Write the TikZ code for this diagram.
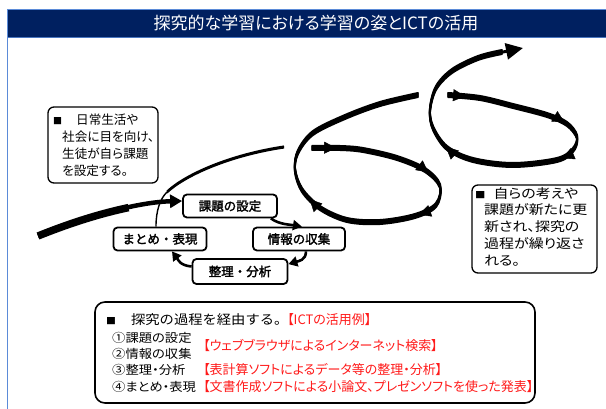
\documentclass[tikz,border=0pt]{standalone}
\usepackage{fontspec}
\usepackage{graphicx}
\usetikzlibrary{arrows.meta,decorations.markings}
\newfontfamily\jp{Noto Sans CJK JP}
\newfontfamily\jpp[RawFeature=+palt]{Noto Sans CJK JP}
\newfontfamily\jpw[FakeStretch=1.15,RawFeature=+palt]{Noto Sans CJK JP}
\newfontfamily\jps[FakeStretch=1.1]{Noto Sans CJK JP}
\newfontfamily\jpps[FakeStretch=1.1,RawFeature=+palt]{Noto Sans CJK JP}
\newfontfamily\jpb[FakeBold=2]{Noto Sans CJK JP}
\definecolor{navy}{HTML}{002060}
\definecolor{frameblue}{HTML}{5B8BD8}
\definecolor{ictred}{HTML}{FF1A1A}
\newcommand\nibdraw[1]{%
  \foreach \dy in {-2,-1,0,1,2}{%
    \draw[line width=2pt, line cap=round, yshift=\dy pt] plot[smooth, tension=0.55] coordinates {#1};}}
\tikzset{
  cycbox/.style={draw, line width=1.8pt, rounded corners=4pt, fill=white,
    minimum width=#1, minimum height=23pt, inner sep=0pt,
    font=\jpb\fontsize{12.5}{12.5}\selectfont},
  infobox/.style={draw, line width=1.3pt, rounded corners=6pt, fill=white, inner sep=0pt},
  cycarrow/.style={line width=2.6pt, -{Triangle[length=9pt,width=10pt]}},
  blacktext/.style={anchor=west, inner sep=0pt, font=\jpps\fontsize{12.1}{12.1}\selectfont},
  redtext/.style={anchor=west, inner sep=0pt, text=ictred, font=\jpp\fontsize{13}{13}\selectfont},
}
\begin{document}
\begin{tikzpicture}[x=1pt,y=-1pt]
\useasboundingbox (0,0) rectangle (606,409);
\fill[white] (0,0) rectangle (606,409);
% frame and title bar
\fill[navy] (8,10) rectangle (606,37);
\draw[frameblue, line width=1.6pt] (7.5,409) -- (7.5,9.6) -- (606,9.6);
\draw[frameblue!80!navy, line width=0.8pt] (8,37) -- (606,37);
\node[text=white, inner sep=0pt, font=\jpp\fontsize{17}{17}\selectfont] (title) at (316,23.5) {探究的な学習における学習の姿とICTの活用};

% spiral loop 1
\nibdraw{(312,148) (340,148) (363,150) (397,158) (425,170) (440,186) (436,205) (415,216) (380,222) (347,220) (320,208) (302,190) (295,170) (298,152) (313,133) (345,117) (380,104) (418,95)}
\path[postaction={decorate}, decoration={markings,
   mark=at position 0.05 with {\arrow{Triangle[length=12pt,width=12pt]}},
   mark=at position 0.25 with {\arrow{Triangle[length=12pt,width=12pt]}},
   mark=at position 0.37 with {\arrow{Triangle[length=12pt,width=12pt]}},
   mark=at position 0.61 with {\arrow{Triangle[length=12pt,width=12pt]}}}]
  plot[smooth, tension=0.55] coordinates {(312,148) (340,148) (363,150) (397,158) (425,170) (440,186) (436,205) (415,216) (380,222) (347,220) (320,208) (302,190) (295,170) (298,152) (313,133) (345,117) (380,104) (418,95)};

% spiral loop 2
\nibdraw{(448,95) (480,98) (513,106) (547,115) (567,124) (577,137) (573,150) (557,160) (513,165) (473,160) (447,148) (433,128) (430,110) (436,88) (452,71) (478,58) (502,52)}
\path[postaction={decorate}, decoration={markings,
   mark=at position 0.04 with {\arrow{Triangle[length=12pt,width=12pt]}},
   mark=at position 0.28 with {\arrow{Triangle[length=12pt,width=12pt]}},
   mark=at position 0.39 with {\arrow{Triangle[length=12pt,width=12pt]}},
   mark=at position 0.67 with {\arrow{Triangle[length=12pt,width=12pt]}}}]
  plot[smooth, tension=0.55] coordinates {(448,95) (480,98) (513,106) (547,115) (567,124) (577,137) (573,150) (557,160) (513,165) (473,160) (447,148) (433,128) (430,110) (436,88) (452,71) (478,58) (502,52)};
\coordinate (spiralend) at (523,48);
\draw[line width=3pt, -{Triangle[length=17pt,width=16pt]}] (498,53) -- (spiralend);

% cycle nodes
\node[cycbox=94pt] (kadai) at (230,206) {課題の設定};
\node[cycbox=92pt] (joho) at (299,239) {情報の収集};
\node[cycbox=93pt] (matome) at (160,239) {まとめ・表現};
\node[cycbox=95pt, minimum height=25pt] (seiri) at (240,271.5) {整理・分析};

% incoming arrow
\coordinate (start) at (38,236);
\draw[line width=7.5pt, dash pattern=on 95pt off 1000pt] (start) .. controls (90,215) and (140,202) .. ([yshift=5pt]kadai.west);
\draw[line width=4.5pt, -{Triangle[length=12pt,width=13pt]}] (start) .. controls (90,215) and (140,202) .. ([yshift=5pt]kadai.west);

% thin connector from matome up to loop 1
\draw[line width=1.4pt] ([xshift=-4pt]matome.north) .. controls +(0,-16) and (160,199) .. (167,192);
\foreach \dy in {-0.8,0,0.8}{
  \draw[line width=1.5pt, yshift=\dy pt] (167,192) .. controls (185,175) and (230,155) .. (284,147);}

% cycle arrows
\draw[cycarrow] ([xshift=-7pt]kadai.south east) .. controls +(8,6) and +(-12,-2) .. ([xshift=-44pt]joho.north east);
\draw[cycarrow] ([xshift=7pt]joho.south) .. controls +(0,9) and +(10,-3) .. ([yshift=-6pt]seiri.north east);
\draw[cycarrow] ([yshift=5pt]seiri.west) .. controls +(-12,-1) and +(6,8) .. ([xshift=12pt]matome.south);

% left info box
\node[infobox, minimum width=110pt, minimum height=76pt] (leftbox) at (103,145) {};
\node[anchor=north west, inner sep=0pt, align=left, font=\jpp\fontsize{12.6}{16.8}\selectfont] (lefttext) at (53,114)
 {{\fontsize{9}{9}\selectfont ■}\hspace{14pt}日常生活や\\
  \hspace*{9pt}社会に目を向け、\\
  \hspace*{9pt}生徒が自ら課題\\
  \hspace*{9pt}を設定する。};

% right info box
\node[infobox, minimum width=125pt, minimum height=88pt] (rightbox) at (534.5,229) {};
\node[anchor=north west, inner sep=0pt, align=left, font=\jpw\fontsize{13}{16.8}\selectfont] (righttext) at (475,187)
 {{\fontsize{9}{9}\selectfont ■}\hspace{8pt}自らの考えや\\
  \hspace*{9pt}課題が新たに更\\
  \hspace*{9pt}新され、探究の\\
  \hspace*{9pt}過程が繰り返さ\\
  \hspace*{9pt}れる。};

% bottom box
\node[infobox, line width=1.6pt, rounded corners=10pt, minimum width=440pt, minimum height=101pt] (bottombox) at (315,352.5) {};
\node[anchor=west, inner sep=0pt, font=\jps\fontsize{13}{13}\selectfont] (l1) at (106,320) {{\fontsize{9}{9}\selectfont ■}\hspace{15pt}探究の過程を経由する。};
\node[redtext] (ict) at (287,320) {【ICTの活用例】};
\node[blacktext] (n1) at (112,338) {①課題の設定};
\node[blacktext] (n2) at (112,354) {②情報の収集};
\node[blacktext] (n3) at (112,370) {③整理・分析};
\node[blacktext] (n4) at (112,387) {④まとめ・表現};
\node[redtext] (r2) at (203,345) {【ウェブブラウザによるインターネット検索】};
\node[redtext] (r3) at (203,370) {【表計算ソフトによるデータ等の整理・分析】};
\node[redtext] (r4) at (203,387) {【文書作成ソフトによる小論文、プレゼンソフトを使った発表】};
\end{tikzpicture}
\end{document}
